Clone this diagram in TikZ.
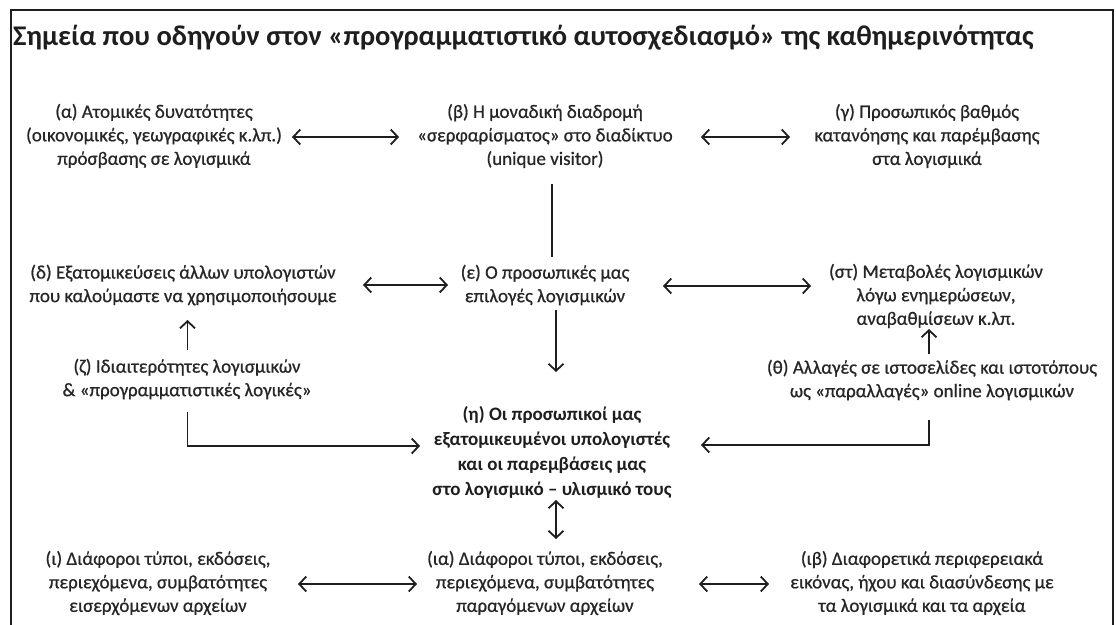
\documentclass[tikz,border=0pt]{standalone}
\usepackage{fontspec}
\setmainfont{Carlito}
\newfontfamily\bodyfont{Carlito}[FakeBold=0.7]
\usetikzlibrary{arrows.meta}
\definecolor{ink}{HTML}{262626}
\definecolor{lin}{HTML}{1E1E1E}
\begin{document}
\begin{tikzpicture}[x=1pt,y=-1pt,
  txt/.style={align=center, font=\bodyfont\fontsize{19}{23.5}\selectfont, text=ink, inner sep=0pt},
  btxt/.style={align=center, inner sep=0pt, font=\fontsize{19}{25}\selectfont\bfseries, text=lin},
  conn/.style={draw=lin, line width=1.8pt},
  one/.style={conn, -{Straight Barb[length=7pt,width=15pt]}},
  two/.style={conn, {Straight Barb[length=7pt,width=15pt]}-{Straight Barb[length=7pt,width=15pt]}}]
\useasboundingbox (0,0) rectangle (1116,624);
\clip (0,0) rectangle (1116,624);
\fill[white] (0,0) rectangle (1116,624);
\draw[draw=lin, line width=1.6pt] (11,640) -- (11,10) -- (1113,10) -- (1113,640);

\node[anchor=base west, inner sep=0pt, text=lin, font=\fontsize{28.5}{32}\selectfont\bfseries] (title) at (13,45)
  {Σημεία που οδηγούν στον «προγραμματιστικό αυτοσχεδιασμό» της καθημερινότητας};

\node[txt] (a) at (154,136) {(α) Ατομικές δυνατότητες\\(οικονομικές, γεωγραφικές κ.λπ.)\\πρόσβασης σε λογισμικά};
\node[txt] (b) at (545,136) {(β) Η μοναδική διαδρομή\\«σερφαρίσματος» στο διαδίκτυο\\(unique visitor)};
\node[txt] (g) at (927,136) {(γ) Προσωπικός βαθμός\\κατανόησης και παρέμβασης\\στα λογισμικά};

\node[txt] (d) at (183,285) {(δ) Εξατομικεύσεις άλλων υπολογιστών\\που καλούμαστε να χρησιμοποιήσουμε};
\node[txt] (e) at (545,285) {(ε) Ο προσωπικές μας\\επιλογές λογισμικών};
\node[txt] (st) at (936,296) {(στ) Μεταβολές λογισμικών\\λόγω ενημερώσεων,\\αναβαθμίσεων κ.λπ.};

\node[txt] (z) at (187,379) {(ζ) Ιδιαιτερότητες λογισμικών\\\& «προγραμματιστικές λογικές»};
\node[txt] (th) at (932,380) {(θ) Αλλαγές σε ιστοσελίδες και ιστοτόπους\\ως «παραλλαγές» online λογισμικών};

\node[btxt] (h) at (552,452) {(η) Οι προσωπικοί μας\\εξατομικευμένοι υπολογιστές\\και οι παρεμβάσεις μας\\στο λογισμικό – υλισμικό τους};

\node[txt] (i) at (158,583) {(ι) Διάφοροι τύποι, εκδόσεις,\\περιεχόμενα, συμβατότητες\\εισερχόμενων αρχείων};
\node[txt] (ia) at (545,583) {(ια) Διάφοροι τύποι, εκδόσεις,\\περιεχόμενα, συμβατότητες\\παραγόμενων αρχείων};
\node[txt] (ib) at (922,583) {(ιβ) Διαφορετικά περιφερειακά\\εικόνας, ήχου και διασύνδεσης με\\τα λογισμικά και τα αρχεία};

\draw[two] ([xshift=138pt,yshift=-1pt]a.center) -- ([xshift=-146pt,yshift=-1pt]b.center);
\draw[two] ([xshift=156pt,yshift=-1pt]b.center) -- ([xshift=-137pt,yshift=-1pt]g.center);
\draw[conn] ([xshift=7pt,yshift=-48pt]b.center) -- ([xshift=7pt,yshift=28pt]e.center);
\draw[two] ([xshift=180pt]d.center) -- ([xshift=-97pt]e.center);
\draw[two] ([xshift=118pt,yshift=-1pt]e.center) -- ([xshift=-125pt,yshift=10pt]st.center);
\draw[one] ([xshift=11pt,yshift=-25pt]e.center) -- ([xshift=4pt,yshift=80pt]h.center);
\draw[one] ([xshift=0.5pt,yshift=29pt]z.center) -- ([xshift=4.5pt,yshift=-35pt]d.center);
\draw[one] ([xshift=-3pt,yshift=26pt]th.center) -- ([xshift=-7pt,yshift=-33pt]st.center);
\draw[one] ([xshift=0.5pt,yshift=-33pt]z.center) |- ([xshift=-132pt,yshift=6pt]h.center);
\draw[one] ([xshift=-3pt,yshift=-40pt]th.center) |- ([xshift=149pt,yshift=7pt]h.center);
\draw[two] ([xshift=4pt,yshift=-48pt]h.center) -- ([xshift=11pt,yshift=44pt]ia.center);
\draw[two] ([xshift=140pt,yshift=-1pt]i.center) -- ([xshift=-128pt,yshift=-1pt]ia.center);
\draw[two] ([xshift=154pt,yshift=-1pt]ia.center) -- ([xshift=-153pt,yshift=-1pt]ib.center);
\end{tikzpicture}
\end{document}
